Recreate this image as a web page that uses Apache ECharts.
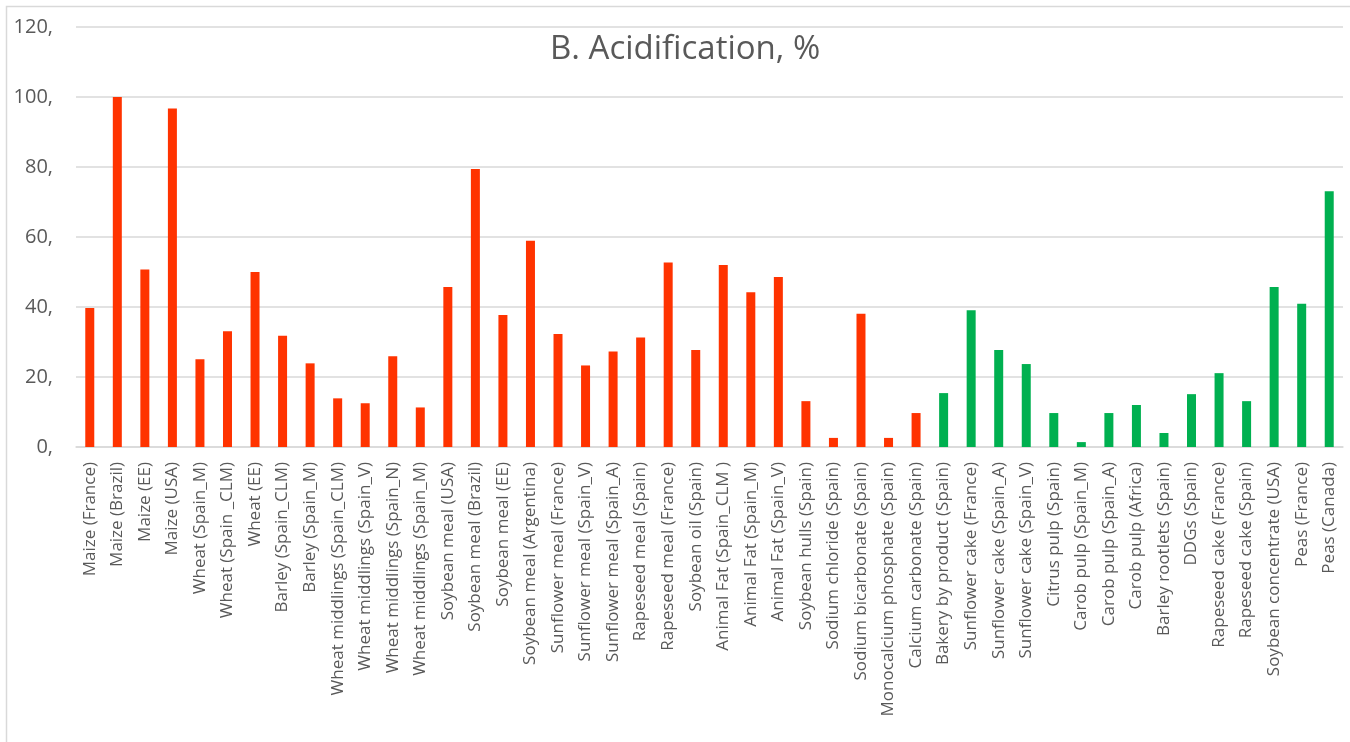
<!DOCTYPE html>
<html>
<head>
<meta charset="utf-8">
<title>B. Acidification, %</title>
<script src="https://cdn.jsdelivr.net/npm/echarts@6/dist/echarts.min.js"></script>
<style>
  html, body { margin: 0; padding: 0; background: #fff; }
  #chart { width: 1350px; height: 742px; }
</style>
</head>
<body>
<div id="chart"></div>
<script>
// Feed ingredients and their relative acidification impact (%)
const categories = [
  'Maize (France)', 'Maize (Brazil)', 'Maize (EE)', 'Maize (USA)',
  'Wheat (Spain_M)', 'Wheat (Spain _CLM)', 'Wheat (EE)',
  'Barley (Spain_CLM)', 'Barley (Spain_M)',
  'Wheat middlings (Spain_CLM)', 'Wheat middlings (Spain_V)',
  'Wheat middlings (Spain_N)', 'Wheat middlings (Spain_M)',
  'Soybean meal (USA)', 'Soybean meal (Brazil)', 'Soybean meal (EE)',
  'Soybean meal (Argentina)',
  'Sunflower meal (France)', 'Sunflower meal (Spain_V)', 'Sunflower meal (Spain_A)',
  'Rapeseed meal (Spain)', 'Rapeseed meal (France)', 'Soybean oil (Spain)',
  'Animal Fat (Spain_CLM )', 'Animal Fat (Spain_M)', 'Animal Fat (Spain_V)',
  'Soybean hulls (Spain)', 'Sodium chloride (Spain)', 'Sodium bicarbonate (Spain)',
  'Monocalcium phosphate (Spain)', 'Calcium carbonate (Spain)',
  'Bakery by product (Spain)', 'Sunflower cake (France)', 'Sunflower cake (Spain_A)',
  'Sunflower cake (Spain_V)', 'Citrus pulp (Spain)', 'Carob pulp (Spain_M)',
  'Carob pulp (Spain_A)', 'Carob pulp (Africa)', 'Barley rootlets (Spain)',
  'DDGs (Spain)', 'Rapeseed cake (France)', 'Rapeseed cake (Spain)',
  'Soybean concentrate (USA)', 'Peas (France)', 'Peas (Canada)'
];

// Conventional ingredients (first 31 categories)
const conventionalValues = [
  39.7, 100, 50.7, 96.7,
  25.1, 33.1, 50,
  31.8, 23.9,
  13.9, 12.5, 25.9, 11.3,
  45.7, 79.4, 37.7, 58.9,
  32.3, 23.3, 27.3,
  31.3, 52.7, 27.7,
  52, 44.2, 48.6,
  13.1, 2.6, 38.1, 2.6, 9.7
];

// Alternative ingredients (last 15 categories)
const alternativeValues = [
  15.4, 39.1, 27.7, 23.7, 9.7, 1.4, 9.7, 12, 4,
  15.1, 21.1, 13.1, 45.7, 40.9, 73.1
];

const yTicks = [0, 20, 40, 60, 80, 100, 120];

const nConv = conventionalValues.length;
const barData = categories.map((name, i) => {
  const isConv = i < nConv;
  return {
    value: isConv ? conventionalValues[i] : alternativeValues[i - nConv],
    itemStyle: { color: isConv ? '#FF3300' : '#00B050' }
  };
});

const chart = echarts.init(document.getElementById('chart'), null, { renderer: 'canvas' });

chart.setOption({
  animation: false,
  backgroundColor: '#ffffff',
  textStyle: { fontFamily: 'Open Sans' },
  title: {
    text: 'B. Acidification, %',
    left: 545,
    top: 28,
    textStyle: {
      fontFamily: 'Open Sans',
      fontSize: 33,
      fontWeight: 'normal',
      color: '#595959'
    }
  },
  graphic: [
    {
      type: 'polyline',
      shape: { points: [[6.5, 742], [6.5, 6.5], [1350, 6.5]] },
      style: { stroke: '#d9d9d9', lineWidth: 1.5, fill: null },
      silent: true
    }
  ],
  grid: {
    left: 76,
    right: 7,
    top: 27,
    bottom: 295,
    containLabel: false
  },
  xAxis: {
    type: 'category',
    data: categories,
    axisLine: { show: true, lineStyle: { color: '#d9d9d9', width: 1.5 } },
    axisTick: { show: false },
    axisLabel: {
      interval: 0,
      rotate: 90,
      margin: 15,
      fontFamily: 'Open Sans',
      fontSize: 17,
      color: '#595959'
    }
  },
  yAxis: {
    type: 'value',
    min: yTicks[0],
    max: yTicks[yTicks.length - 1],
    interval: 20,
    axisLine: { show: false },
    axisTick: { show: false },
    splitLine: { lineStyle: { color: '#d9d9d9', width: 1.5 } },
    axisLabel: {
      margin: 23,
      fontFamily: 'Open Sans',
      fontSize: 20,
      color: '#595959',
      formatter: v => v + ','
    }
  },
  series: [
    {
      type: 'bar',
      data: barData,
      barWidth: 9
    }
  ]
});
</script>
</body>
</html>
